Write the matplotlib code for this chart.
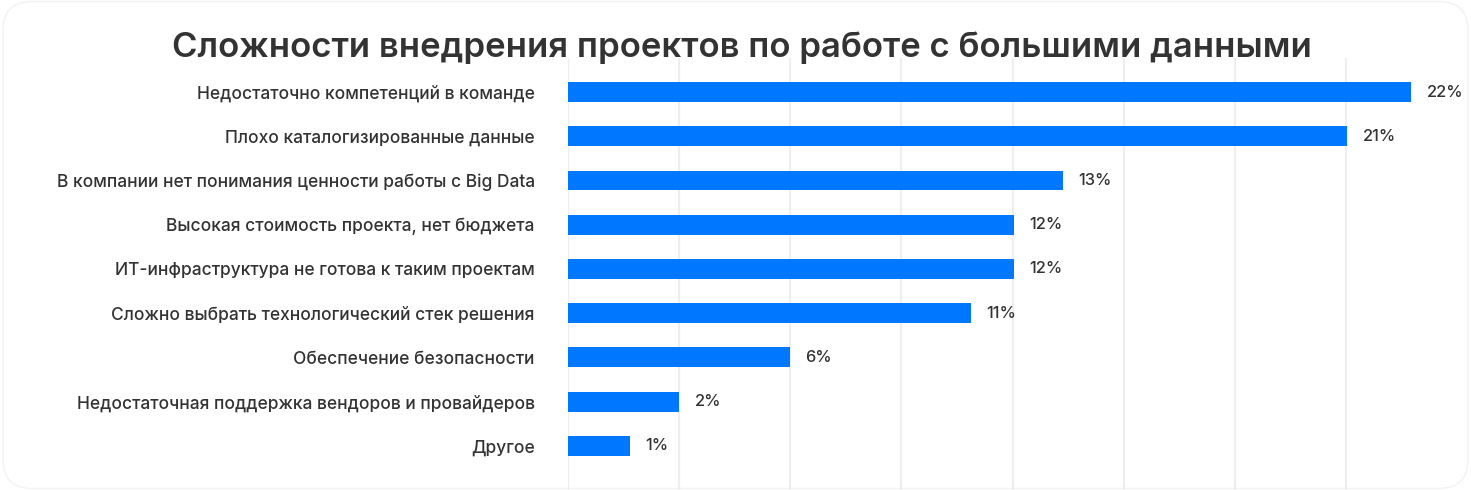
import matplotlib.pyplot as plt
from matplotlib.patches import FancyBboxPatch

plt.rcParams['font.family'] = ['Inter', 'DejaVu Sans']

# данные (длины столбцов, подписи — как на графике)
categories = [
    'Недостаточно компетенций в команде',
    'Плохо каталогизированные данные',
    'В компании нет понимания ценности работы с Big Data',
    'Высокая стоимость проекта, нет бюджета',
    'ИТ-инфраструктура не готова к таким проектам',
    'Сложно выбрать технологический стек решения',
    'Обеспечение безопасности',
    'Недостаточная поддержка вендоров и провайдеров',
    'Другое',
]
values = [22.77, 21.04, 13.37, 12.04, 12.04, 10.88, 5.99, 3.0, 1.67]
value_labels = ['22%', '21%', '13%', '12%', '12%', '11%', '6%', '2%', '1%']

title = 'Сложности внедрения проектов по работе с большими данными'
bar_color = '#0077ff'
text_color = '#333333'

fig = plt.figure(figsize=(14.71, 4.90), dpi=100)
fig.patch.set_facecolor('white')

# рамка-карточка со скруглёнными углами
card = FancyBboxPatch((0.002, 0.003), 0.996, 0.994,
                      boxstyle='round,pad=0,rounding_size=0.02',
                      transform=fig.transFigure, facecolor='white',
                      edgecolor='#f2f2f2', linewidth=1, mutation_aspect=3,
                      zorder=-10)
fig.patches.append(card)

ax = fig.add_axes([568 / 1471, 0, 889 / 1471, 1 - 58 / 490])
ax.set_facecolor('none')

y = list(range(len(categories)))
ax.barh(y, values, height=0.45, color=bar_color, zorder=3)

for yi, v, lab in zip(y, values, value_labels):
    ax.annotate(lab, (v, yi), xytext=(11, 0), textcoords='offset points',
                va='center', ha='left', fontsize=11.8, fontweight='medium',
                color=text_color)

ax.set_xlim(0, 24)
ax.set_ylim(9.0, -0.77)
ax.set_xticks(range(0, 22, 3))
ax.grid(axis='x', color='#eeeeee', linewidth=1.6, zorder=0)
ax.tick_params(axis='x', length=0, labelbottom=False)
ax.tick_params(axis='y', length=0, pad=24)
ax.set_yticks(y)
ax.set_yticklabels(categories, fontsize=12.5, fontweight='medium',
                   color=text_color)
for s in ax.spines.values():
    s.set_visible(False)

fig.text(742 / 1471, 1 - 57 / 490, title, ha='center', va='baseline',
         fontsize=25, fontweight='semibold', color=text_color)

fig.savefig('out.png', dpi=100, facecolor='white')
